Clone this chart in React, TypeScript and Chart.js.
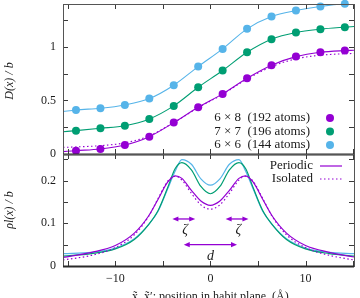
import { useEffect, useRef } from 'react';
import { Chart, registerables } from 'chart.js';

Chart.register(...registerables);

const SERIF = '"Liberation Serif", "Times New Roman", serif';

// Position of each atomic column along the habit plane (Å)
const columnX = [-14.135, -11.565, -8.995, -6.425, -3.855, -1.285, 1.285, 3.855, 6.425, 8.995, 11.565, 14.135];

// Disregistry D(x)/b measured at each column, per supercell
const disp6x8 = [0.031, 0.047, 0.084, 0.162, 0.293, 0.436, 0.561, 0.707, 0.829, 0.909, 0.95, 0.965];
const disp7x7 = [0.218, 0.24, 0.264, 0.327, 0.449, 0.623, 0.779, 0.95, 1.072, 1.134, 1.165, 1.184];
const disp6x6 = [0.411, 0.427, 0.458, 0.517, 0.642, 0.816, 0.981, 1.168, 1.283, 1.339, 1.377, 1.402];

// Fitted D(x)/b curves
const fitX = [-15.5, -14.135, -11.565, -8.995, -6.425, -3.855, -1.285, 1.285, 3.855, 6.425, 8.995, 11.565, 14.135, 15.1];
const fit6x8 = [0.022, 0.031, 0.047, 0.084, 0.162, 0.293, 0.436, 0.561, 0.707, 0.829, 0.909, 0.95, 0.965, 0.968];
const fit6x8Isolated = [0.062, 0.066, 0.078, 0.104, 0.17, 0.293, 0.432, 0.557, 0.7, 0.815, 0.888, 0.922, 0.936, 0.938];
const fit7x7 = [0.208, 0.218, 0.24, 0.264, 0.327, 0.449, 0.623, 0.779, 0.95, 1.072, 1.134, 1.165, 1.184, 1.19];
const fit6x6 = [0.395, 0.411, 0.427, 0.458, 0.517, 0.642, 0.816, 0.981, 1.168, 1.283, 1.339, 1.377, 1.402, 1.41];

// Burgers vector density rho(x)/b
const rhoX = [-15.5, -12.5, -10, -8, -6.5, -5.5, -4.5, -3.7, -3, -2, -1, 0, 1, 2, 3, 3.7, 4.5, 5.5, 6.5, 8, 10, 12.5, 15.1];
const rho6x8 = [0.02, 0.032, 0.048, 0.077, 0.117, 0.156, 0.196, 0.211, 0.205, 0.177, 0.152, 0.142, 0.152, 0.177, 0.205, 0.211, 0.196, 0.156, 0.117, 0.077, 0.048, 0.032, 0.021];
const rho6x8Isolated = [0.014, 0.025, 0.043, 0.073, 0.116, 0.158, 0.198, 0.21, 0.201, 0.17, 0.143, 0.133, 0.143, 0.17, 0.201, 0.21, 0.198, 0.158, 0.116, 0.073, 0.043, 0.025, 0.014];
const rho7x7 = [0.023, 0.029, 0.04, 0.062, 0.097, 0.13, 0.183, 0.228, 0.242, 0.225, 0.186, 0.169, 0.186, 0.225, 0.242, 0.228, 0.183, 0.13, 0.097, 0.062, 0.04, 0.029, 0.023];
const rho6x6 = [0.029, 0.032, 0.042, 0.064, 0.097, 0.128, 0.18, 0.222, 0.249, 0.238, 0.204, 0.189, 0.204, 0.238, 0.249, 0.222, 0.18, 0.128, 0.097, 0.064, 0.042, 0.032, 0.029];

// Partial separation d and half-width zeta (Å)
const partialSeparation = 5.6;
const halfWidth = 2.4;

// Tick labels
const xTickLabels = [-10, 0, 10];
const topTickLabels = [0, 0.5, 1];
const bottomTickLabels = [0, 0.1, 0.2];

const seriesNames = ['6 × 8  (192 atoms)', '7 × 7  (196 atoms)', '6 × 6  (144 atoms)'];
const PURPLE = '#9400D3';
const GREEN = '#009E73';
const BLUE = '#56B4E9';
const seriesColors = [PURPLE, GREEN, BLUE];

const pairs = (xs: number[], ys: number[]) => xs.map((x, i) => ({ x, y: ys[i] }));

const fmt = (v: number) => (v < 0 ? '−' + String(Math.abs(v)) : String(v));
const near = (v: number, list: number[]) => list.find((l) => Math.abs(l - v) < 1e-6);

function drawArrow(ctx: CanvasRenderingContext2D, x1: number, x2: number, y: number, color: string) {
  const head = 6;
  const hw = 2.6;
  ctx.save();
  ctx.strokeStyle = color;
  ctx.fillStyle = color;
  ctx.lineWidth = 1.3;
  ctx.beginPath();
  ctx.moveTo(x1 + head - 1, y);
  ctx.lineTo(x2 - head + 1, y);
  ctx.stroke();
  ctx.beginPath();
  ctx.moveTo(x1, y);
  ctx.lineTo(x1 + head, y - hw);
  ctx.lineTo(x1 + head, y + hw);
  ctx.closePath();
  ctx.fill();
  ctx.beginPath();
  ctx.moveTo(x2, y);
  ctx.lineTo(x2 - head, y - hw);
  ctx.lineTo(x2 - head, y + hw);
  ctx.closePath();
  ctx.fill();
  ctx.restore();
}

const decorations = {
  id: 'decorations',
  afterDraw(chart: any) {
    const { ctx, chartArea } = chart;
    const xs = chart.scales.x;
    const yTop = chart.scales.yTop;
    const yBot = chart.scales.yBot;
    const left = chartArea.left;
    const right = chartArea.right;

    // panel frames with inward ticks
    [yTop, yBot].forEach((ys: any) => {
      const top = ys.top;
      const bottom = ys.bottom;
      ctx.save();
      ctx.strokeStyle = '#3a3a3a';
      ctx.lineWidth = 1;
      ctx.beginPath();
      xs.ticks.forEach((t: any) => {
        const px = Math.round(xs.getPixelForValue(t.value)) + 0.5;
        ctx.moveTo(px, bottom);
        ctx.lineTo(px, bottom - 5);
        ctx.moveTo(px, top);
        ctx.lineTo(px, top + 5);
      });
      ys.ticks.forEach((t: any) => {
        const py = Math.round(ys.getPixelForValue(t.value)) + 0.5;
        ctx.moveTo(left, py);
        ctx.lineTo(left + 5, py);
        ctx.moveTo(right, py);
        ctx.lineTo(right - 5, py);
      });
      ctx.stroke();
      ctx.strokeStyle = '#555';
      ctx.strokeRect(Math.round(left) + 0.5, Math.round(top) + 0.5, Math.round(right - left), Math.round(bottom - top));
      ctx.strokeStyle = '#2a2a2a';
      ctx.lineWidth = 2;
      ctx.beginPath();
      ctx.moveTo(left, Math.round(bottom) + 0.5);
      ctx.lineTo(right, Math.round(bottom) + 0.5);
      ctx.stroke();
      ctx.restore();
    });

    ctx.save();
    ctx.fillStyle = '#1a1a1a';

    // axis titles
    ctx.font = `italic 12px ${SERIF}`;
    ctx.textAlign = 'center';
    ctx.textBaseline = 'middle';
    ctx.save();
    ctx.translate(10, (yTop.top + yTop.bottom) / 2 + 2);
    ctx.rotate(-Math.PI / 2);
    ctx.fillText('D(x) / b', 0, 0);
    ctx.restore();
    ctx.save();
    ctx.translate(10, (yBot.top + yBot.bottom) / 2);
    ctx.rotate(-Math.PI / 2);
    ctx.fillText('ρl(x) / b', 0, 0);
    ctx.restore();

    ctx.font = `12px ${SERIF}`;
    ctx.textBaseline = 'alphabetic';
    ctx.fillText('x̃, x̃′: position in habit plane  (Å)', xs.getPixelForValue(0), 300);

    // legend, upper panel
    ctx.font = `13px ${SERIF}`;
    ctx.textAlign = 'right';
    ctx.textBaseline = 'middle';
    const rowsTop = [118, 131.5, 145];
    seriesNames.forEach((name, i) => {
      ctx.fillStyle = '#1a1a1a';
      ctx.fillText(name, 310, rowsTop[i]);
      ctx.fillStyle = seriesColors[i];
      ctx.beginPath();
      ctx.arc(330, rowsTop[i], 4, 0, Math.PI * 2);
      ctx.fill();
    });

    // legend, lower panel
    const rowsBot = [165.5, 178.5];
    ['Periodic', 'Isolated'].forEach((name, i) => {
      ctx.fillStyle = '#1a1a1a';
      ctx.fillText(name, 313, rowsBot[i]);
      ctx.save();
      ctx.strokeStyle = PURPLE;
      ctx.lineWidth = 1.2;
      if (i === 1) ctx.setLineDash([1.5, 2.5]);
      ctx.beginPath();
      ctx.moveTo(320, rowsBot[i] + 0.5);
      ctx.lineTo(342, rowsBot[i] + 0.5);
      ctx.stroke();
      ctx.restore();
    });

    // zeta and d markers
    const half = partialSeparation / 2;
    const yZeta = yBot.getPixelForValue(0.11);
    const yZetaLabel = yBot.getPixelForValue(0.084);
    const yD = yBot.getPixelForValue(0.05);
    const yDLabel = yBot.getPixelForValue(0.023);
    [-half, half].forEach((c) => {
      drawArrow(ctx, xs.getPixelForValue(c - halfWidth / 2), xs.getPixelForValue(c + halfWidth / 2), yZeta, PURPLE);
    });
    drawArrow(ctx, xs.getPixelForValue(-half), xs.getPixelForValue(half), yD, PURPLE);
    ctx.fillStyle = '#1a1a1a';
    ctx.font = `italic 14px ${SERIF}`;
    ctx.textAlign = 'center';
    ctx.fillText('ζ', xs.getPixelForValue(-half + 0.15), yZetaLabel);
    ctx.fillText('ζ', xs.getPixelForValue(half + 0.15), yZetaLabel);
    ctx.fillText('d', xs.getPixelForValue(0), yDLabel);
    ctx.restore();
  },
};

const noPadding = (s: any) => {
  s.paddingTop = 0;
  s.paddingBottom = 0;
  s.paddingLeft = 0;
  s.paddingRight = 0;
};

export default function App() {
  const canvasRef = useRef<HTMLCanvasElement | null>(null);

  useEffect(() => {
    const canvas = canvasRef.current;
    if (!canvas) return;

    const lineSet = (data: any, color: string, axis: string, dashed = false, width = 1.1) => ({
      type: 'line',
      data,
      yAxisID: axis,
      borderColor: color,
      borderWidth: width,
      borderDash: dashed ? [1.5, 2.5] : [],
      pointRadius: 0,
      fill: false,
      cubicInterpolationMode: 'monotone',
    });
    const pointSet = (data: any, color: string) => ({
      type: 'line',
      data,
      yAxisID: 'yTop',
      showLine: false,
      pointRadius: 4,
      pointBorderWidth: 0,
      pointBackgroundColor: color,
      borderColor: color,
      clip: false,
    });

    const chart = new Chart(canvas, {
      type: 'line',
      data: {
        datasets: [
          pointSet(pairs(columnX, disp6x8), PURPLE),
          pointSet(pairs(columnX, disp7x7), GREEN),
          pointSet(pairs(columnX, disp6x6), BLUE),
          lineSet(pairs(fitX, fit6x8), PURPLE, 'yTop'),
          lineSet(pairs(fitX, fit6x8Isolated), PURPLE, 'yTop', true),
          lineSet(pairs(fitX, fit7x7), GREEN, 'yTop'),
          lineSet(pairs(fitX, fit6x6), BLUE, 'yTop'),
          lineSet(pairs(rhoX, rho6x8), PURPLE, 'yBot', false, 1.2),
          lineSet(pairs(rhoX, rho6x8Isolated), PURPLE, 'yBot', true, 1.2),
          lineSet(pairs(rhoX, rho7x7), GREEN, 'yBot', false, 1.2),
          lineSet(pairs(rhoX, rho6x6), BLUE, 'yBot', false, 1.2),
        ] as any,
      },
      options: {
        animation: false,
        responsive: false,
        devicePixelRatio: 1,
        events: [],
        layout: { autoPadding: false, padding: { left: 0, right: 6, top: 4, bottom: 0 } },
        plugins: { legend: { display: false }, tooltip: { enabled: false } },
        scales: {
          x: {
            type: 'linear',
            min: -15.5,
            max: 15.1,
            grid: { display: false, drawTicks: false },
            border: { display: false },
            ticks: {
              stepSize: 5,
              autoSkip: false,
              includeBounds: false,
              maxRotation: 0,
              padding: 6,
              color: '#1a1a1a',
              font: { family: SERIF, size: 12 },
              callback: (v: any) => (near(Number(v), xTickLabels) !== undefined ? fmt(Number(v)) : ''),
            },
            afterFit: (s: any) => {
              s.height = 32;
              noPadding(s);
            },
          },
          yTop: {
            type: 'linear',
            position: 'left',
            stack: 'panels',
            stackWeight: 150,
            weight: 1,
            min: 0,
            max: 1.4,
            grid: { display: false, drawTicks: false },
            border: { display: false },
            ticks: {
              stepSize: 0.25,
              autoSkip: false,
              includeBounds: false,
              padding: 7,
              color: '#1a1a1a',
              font: { family: SERIF, size: 12 },
              callback: (v: any) => {
                const m = near(Number(v), topTickLabels);
                return m !== undefined ? String(m) : '';
              },
            },
            afterFit: (s: any) => {
              s.width = 63;
              noPadding(s);
            },
          },
          yBot: {
            type: 'linear',
            position: 'left',
            stack: 'panels',
            stackWeight: 112,
            weight: 0,
            min: 0,
            max: 0.262,
            grid: { display: false, drawTicks: false },
            border: { display: false },
            ticks: {
              stepSize: 0.05,
              autoSkip: false,
              includeBounds: false,
              padding: 7,
              color: '#1a1a1a',
              font: { family: SERIF, size: 12 },
              callback: (v: any) => {
                const m = near(Number(v), bottomTickLabels);
                return m !== undefined ? String(m) : '';
              },
            },
            afterFit: (s: any) => {
              s.width = 63;
              noPadding(s);
            },
          },
        },
      } as any,
      plugins: [decorations],
    });

    return () => chart.destroy();
  }, []);

  return (
    <div style={{ position: 'absolute', left: 0, top: 0, width: 360, height: 298, background: '#fff' }}>
      <canvas ref={canvasRef} width={360} height={298} style={{ display: 'block', width: 360, height: 298 }} />
    </div>
  );
}
